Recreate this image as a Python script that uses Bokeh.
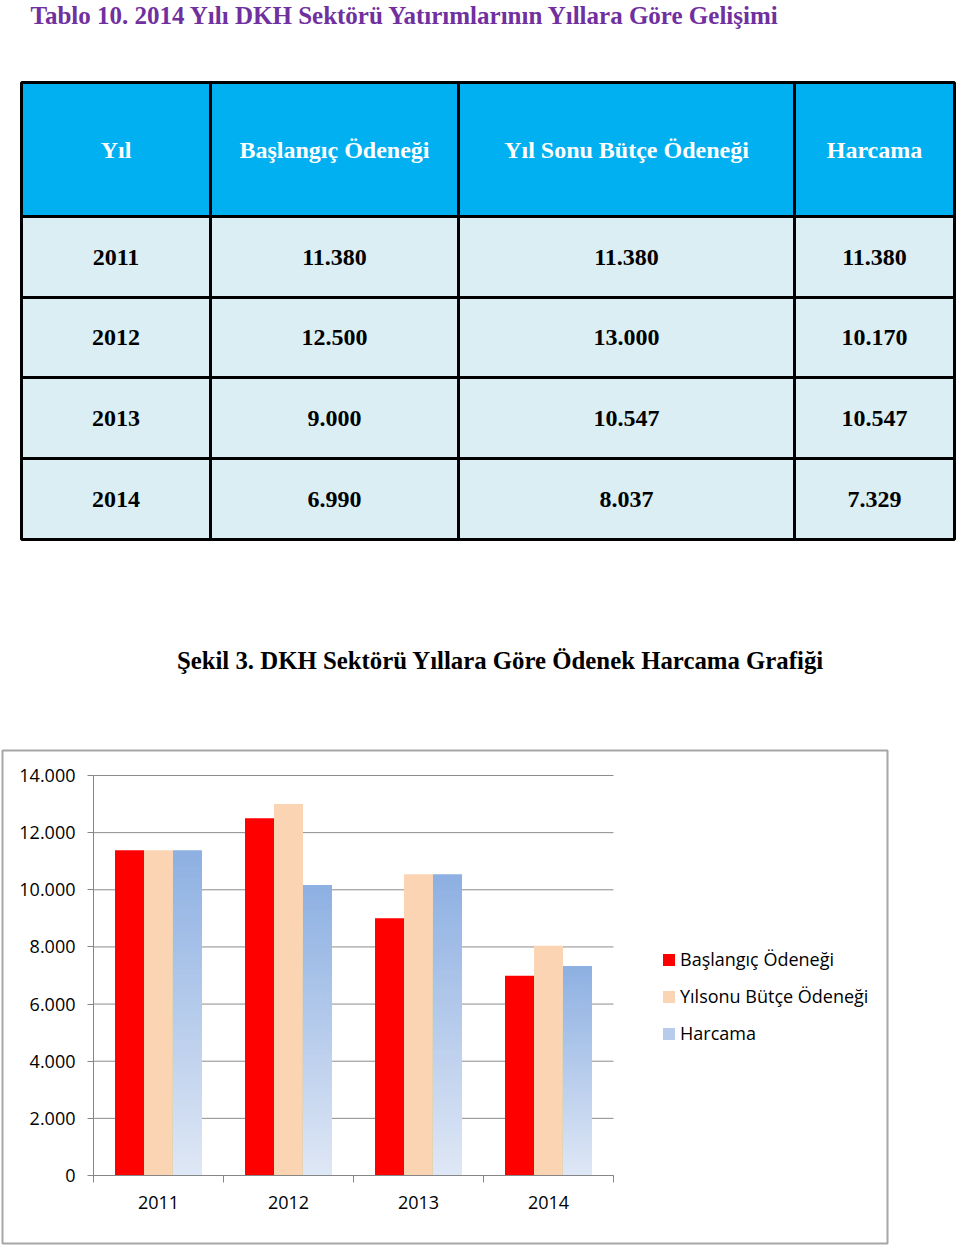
from bokeh.plotting import figure
from bokeh.models import (Range1d, FixedTicker, ColumnDataSource, Legend, LegendItem,
                          LinearAxis)
from bokeh.embed import file_html
from bokeh.resources import INLINE
from bokeh.core.properties import value

# ---------------- data ----------------
title_text = "Tablo 10. 2014 Yılı DKH Sektörü Yatırımlarının Yıllara Göre Gelişimi"
caption_text = "Şekil 3. DKH Sektörü Yıllara Göre Ödenek Harcama Grafiği"
table_headers = ["Yıl", "Başlangıç Ödeneği", "Yıl Sonu Bütçe Ödeneği", "Harcama"]
years = ["2011", "2012", "2013", "2014"]
baslangic = [11380, 12500, 9000, 6990]
yilsonu = [11380, 13000, 10547, 8037]
harcama = [11380, 10170, 10547, 7329]
legend_labels = ["Başlangıç Ödeneği", "Yılsonu Bütçe Ödeneği", "Harcama"]
y_ticks = [0, 2000, 4000, 6000, 8000, 10000, 12000, 14000]
y_tick_labels = ["0", "2.000", "4.000", "6.000", "8.000", "10.000", "12.000", "14.000"]


def fmt(v):
    return f"{v:,}".replace(",", ".")


SERIF = value("Liberation Serif")
SANS = "Open Sans"

# ---------------- page layout (pixels) ----------------
W, H = 960, 1248
col_edges = [21, 210, 458, 794, 954]
row_edges = [82, 216, 297, 377, 458, 539]
box = dict(left=2, right=887, top=750, bottom=1243)
plot_left, plot_right, plot_top, plot_bottom = 93, 613, 775, 1175
y_max = y_ticks[-1]
n_cat = len(years)

p = figure(width=W, height=H, x_range=Range1d(0, W), y_range=Range1d(H, 0),
           output_backend="svg", toolbar_location=None, min_border=0,
           x_axis_location=None, y_axis_location=None)
p.grid.visible = False
p.outline_line_color = None

# chart scales mapped into the page
sx = (plot_right - plot_left) / n_cat
sy = (plot_bottom - plot_top) / y_max
p.extra_x_ranges = {"cat": Range1d((0 - plot_left) / sx, (W - plot_left) / sx)}
p.extra_y_ranges = {"val": Range1d((plot_bottom - H) / sy, (plot_bottom - 0) / sy)}

# ---------------- title, table, caption ----------------
p.text(x=[30], y=[15], text=[title_text], text_font=SERIF, text_font_style="bold",
       text_font_size="25px", text_color="#7030a0", text_baseline="middle",
       text_align="left")

rows = [table_headers] + [[y, fmt(a), fmt(b), fmt(c)] for y, a, b, c in
                          zip(years, baslangic, yilsonu, harcama)]
ql, qr, qt, qb, qc = [], [], [], [], []
tx, ty, tt, tcol = [], [], [], []
for r, row in enumerate(rows):
    for c, cell in enumerate(row):
        ql.append(col_edges[c]); qr.append(col_edges[c + 1])
        qt.append(row_edges[r]); qb.append(row_edges[r + 1])
        qc.append("#00b0f0" if r == 0 else "#daeef3")
        tx.append((col_edges[c] + col_edges[c + 1]) / 2)
        ty.append((row_edges[r] + row_edges[r + 1]) / 2)
        tt.append(cell)
        tcol.append("#ffffff" if r == 0 else "#000000")

p.quad(left=ql, right=qr, top=qt, bottom=qb, fill_color=qc,
       line_color="#000000", line_width=3)
p.text(x=tx, y=ty, text=tt, text_color=tcol, text_font=SERIF, text_font_style="bold",
       text_font_size="24px", text_align="center", text_baseline="middle")

p.text(x=[500], y=[660], text=[caption_text], text_font=SERIF, text_font_style="bold",
       text_font_size="24.8px", text_color="#000000", text_align="center",
       text_baseline="middle")

# ---------------- chart ----------------
p.quad(left=[box["left"]], right=[box["right"]], top=[box["top"]], bottom=[box["bottom"]],
       fill_color=None, line_color="#a6a6a6", line_width=2)

# horizontal gridlines
p.segment(x0=[0] * len(y_ticks), x1=[n_cat] * len(y_ticks), y0=y_ticks, y1=y_ticks,
          line_color="#8c8c8c", line_width=1, x_range_name="cat", y_range_name="val")

bw = 0.223
xs = [i + 0.5 for i in range(n_cat)]
r_red = p.vbar(x=[x - bw for x in xs], top=baslangic, bottom=0, width=bw,
               fill_color="#ff0000", line_color=None,
               x_range_name="cat", y_range_name="val")
r_peach = p.vbar(x=xs, top=yilsonu, bottom=0, width=bw,
                 fill_color="#fbd4b4", line_color=None,
                 x_range_name="cat", y_range_name="val")

# gradient for Harcama bars (light at bottom -> blue at top)
N = 60
c_bot = (223, 231, 245)
c_top = (141, 176, 226)
gx, gtop, gcol = [], [], []
for k in range(N):
    f = (N - k - 0.5) / N
    col = "#%02x%02x%02x" % tuple(int(round(b + (t - b) * f)) for b, t in zip(c_bot, c_top))
    for i, v in enumerate(harcama):
        gx.append(xs[i] + bw)
        gtop.append(v * (N - k) / N)
        gcol.append(col)
gsrc = ColumnDataSource(dict(x=gx, top=gtop, color=gcol))
r_blue = p.vbar(x="x", top="top", bottom=0, width=bw, fill_color="color",
                line_color=None, source=gsrc, x_range_name="cat", y_range_name="val")

# axes
xa = LinearAxis(x_range_name="cat", fixed_location=plot_bottom, bounds=(0, n_cat))
xa.ticker = FixedTicker(ticks=xs, minor_ticks=list(range(n_cat + 1)))
xa.major_label_overrides = {x: y for x, y in zip(xs, years)}
xa.major_tick_line_color = None
xa.minor_tick_line_color = "#868686"
xa.minor_tick_out = 7
xa.minor_tick_in = 0
xa.axis_line_color = "#868686"
xa.major_label_text_font = SANS
xa.major_label_text_font_size = "18px"
xa.major_label_text_color = "#000000"
xa.major_label_standoff = 13
p.add_layout(xa, "below")

ya = LinearAxis(y_range_name="val", fixed_location=plot_left, bounds=(0, y_max))
ya.ticker = FixedTicker(ticks=y_ticks)
ya.major_label_overrides = {t: l for t, l in zip(y_ticks, y_tick_labels)}
ya.major_tick_out = 6
ya.major_tick_in = 0
ya.major_tick_line_color = "#868686"
ya.minor_tick_line_color = None
ya.axis_line_color = "#868686"
ya.major_label_text_font = SANS
ya.major_label_text_font_size = "18px"
ya.major_label_text_color = "#000000"
ya.major_label_standoff = 12
p.add_layout(ya, "left")

legend = Legend(items=[LegendItem(label=legend_labels[0], renderers=[r_red]),
                       LegendItem(label=legend_labels[1], renderers=[r_peach]),
                       LegendItem(label=legend_labels[2], renderers=[r_blue],
                                  index=(N // 2) * n_cat)],
                location=(661, 203), border_line_color=None, background_fill_alpha=0,
                padding=0, margin=0, spacing=13, label_standoff=4,
                label_text_font=SANS, label_text_font_size="18px",
                label_text_color="#000000",
                glyph_width=15, glyph_height=15, label_height=20)
p.add_layout(legend, "center")

open("out.html", "w").write(file_html(p, INLINE))
